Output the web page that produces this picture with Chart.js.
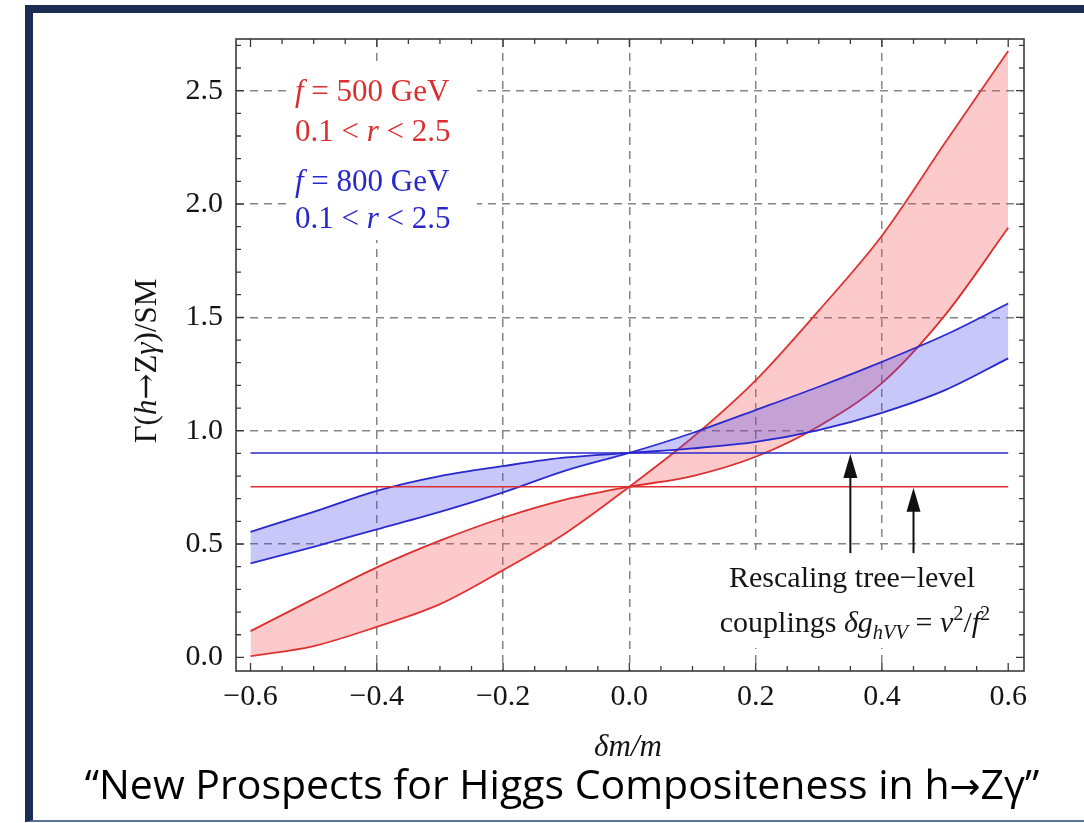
<!DOCTYPE html>
<html>
<head>
<meta charset="utf-8">
<script src="https://cdn.jsdelivr.net/npm/chart.js@4.4.1/dist/chart.umd.min.js"></script>
<style>
  html, body { margin: 0; padding: 0; background: #fff; }
  #page { position: relative; width: 1084px; height: 823px; overflow: hidden; background: #fff; }
  #frame { position: absolute; left: 25px; top: 5px; width: 1100px; height: 817px; box-sizing: border-box;
           border-left: 8px solid #1b2d52; border-top: 8px solid #1b2d52; border-bottom: 2px solid #5b7196; }
  #chart { position: absolute; left: 0; top: 0; }
  #caption { position: absolute; left: 0; width: 1124px; top: 755px; text-align: center;
             font-family: 'Open Sans', sans-serif; font-size: 41px; color: #000; white-space: nowrap; }
  #caption .arr { font-family: 'DejaVu Sans', sans-serif; font-size: 37px; }
</style>
</head>
<body>
<div id="page">
  <div id="frame"></div>
  <canvas id="chart" width="1084" height="823"></canvas>
  <div id="caption">“New Prospects for Higgs Compositeness in h<span class="arr">→</span>Zγ”</div>
</div>
<script>
// δm/m sample points
const dm = [-0.6, -0.5, -0.4, -0.3, -0.2, -0.1, 0, 0.1, 0.2, 0.3, 0.4, 0.5, 0.6];

// f = 500 GeV band edges
const red1 = [0.116, 0.258, 0.397, 0.515, 0.616, 0.697, 0.753, 0.80, 0.885, 1.02, 1.21, 1.51, 1.895];
const red2 = [0.006, 0.05, 0.135, 0.235, 0.385, 0.55, 0.753, 0.97, 1.222, 1.53, 1.86, 2.27, 2.675];

// f = 800 GeV band edges
const blue1 = [0.554, 0.642, 0.735, 0.80, 0.844, 0.882, 0.902, 0.922, 0.951, 1.003, 1.079, 1.179, 1.319];
const blue2 = [0.415, 0.488, 0.565, 0.642, 0.728, 0.825, 0.902, 0.99, 1.091, 1.194, 1.304, 1.422, 1.561];

// tree-level rescaling lines
const levelX = [-0.6, 0.6];
const redLevel = [0.753, 0.753];
const blueLevel = [0.902, 0.902];

// arrows pointing at the lines
const arrowX = [0.35, 0.45];
const arrowFrom = [0.46, 0.46];
const arrowTo = [0.902, 0.753];

const xTicks = [-0.6, -0.4, -0.2, 0, 0.2, 0.4, 0.6];
const xTickLabels = ['\u22120.6', '\u22120.4', '\u22120.2', '0.0', '0.2', '0.4', '0.6'];
const yTicks = [0, 0.5, 1, 1.5, 2, 2.5];
const yTickLabels = ['0.0', '0.5', '1.0', '1.5', '2.0', '2.5'];

const RED = '#dc2e2e';
const BLUE = '#2727cc';
const SERIF = "'Liberation Serif', 'DejaVu Serif', serif";

const pts = (xs, ys) => xs.map((x, i) => ({ x: x, y: ys[i] }));

// draw a line of text made of regular/italic/sub/sup runs ('d' = DejaVu glyph)
function drawRuns(ctx, parts, x, y, size, align) {
  const fontOf = p => {
    const st = p[1] || '';
    const sz = (st.includes('s') || st.includes('p')) ? size * 0.68 : size;
    const fam = st.includes('d') ? "'DejaVu Serif', serif" : SERIF;
    return (st.includes('i') ? 'italic ' : '') + sz + 'px ' + fam;
  };
  let total = 0;
  parts.forEach(p => { ctx.font = fontOf(p); total += ctx.measureText(p[0]).width; });
  let cx = align === 'center' ? x - total / 2 : x;
  ctx.textAlign = 'left';
  ctx.textBaseline = 'alphabetic';
  parts.forEach(p => {
    const st = p[1] || '';
    ctx.font = fontOf(p);
    let dy = 0;
    if (st.includes('s')) dy = size * 0.22;
    if (st.includes('p')) dy = -size * 0.4;
    ctx.fillText(p[0], cx, y + dy);
    cx += ctx.measureText(p[0]).width;
  });
}

const decor = {
  id: 'decor',
  beforeDatasetsDraw(chart) {
    const ctx = chart.ctx;
    ctx.save();
    ctx.fillStyle = '#fff';
    ctx.fillRect(287, 66, 190, 174);
    ctx.fillRect(702, 550, 306, 98);
    ctx.restore();
  },
  afterDatasetsDraw(chart) {
    const ctx = chart.ctx;
    const a = chart.chartArea;
    const xs = chart.scales.x, ys = chart.scales.y;
    ctx.save();

    // frame
    ctx.strokeStyle = '#3a3a3a';
    ctx.lineWidth = 1.6;
    ctx.strokeRect(a.left, a.top, a.right - a.left, a.bottom - a.top);

    // inward ticks on all four sides
    ctx.lineWidth = 1.3;
    ctx.beginPath();
    for (let k = -12; k <= 12; k++) {
      const px = xs.getPixelForValue(k * 0.05);
      const len = k % 4 === 0 ? 8 : 5;
      ctx.moveTo(px, a.bottom); ctx.lineTo(px, a.bottom - len);
      ctx.moveTo(px, a.top); ctx.lineTo(px, a.top + len);
    }
    for (let k = 0; k <= 27; k++) {
      const py = ys.getPixelForValue(k * 0.1);
      const len = k % 5 === 0 ? 8 : 5;
      ctx.moveTo(a.left, py); ctx.lineTo(a.left + len, py);
      ctx.moveTo(a.right, py); ctx.lineTo(a.right - len, py);
    }
    ctx.stroke();

    // arrows
    ctx.strokeStyle = '#111';
    ctx.fillStyle = '#111';
    arrowX.forEach((v, i) => {
      const px = xs.getPixelForValue(v);
      const y0 = ys.getPixelForValue(arrowFrom[i]);
      const y1 = ys.getPixelForValue(arrowTo[i]);
      ctx.lineWidth = 2;
      ctx.beginPath();
      ctx.moveTo(px, y0); ctx.lineTo(px, y1 + 20);
      ctx.stroke();
      ctx.beginPath();
      ctx.moveTo(px, y1 + 1);
      ctx.lineTo(px - 7, y1 + 25);
      ctx.lineTo(px + 7, y1 + 25);
      ctx.closePath();
      ctx.fill();
    });

    // legend text
    ctx.fillStyle = RED;
    drawRuns(ctx, [['f', 'i'], [' = 500 GeV']], 295, 101, 31, 'left');
    drawRuns(ctx, [['0.1 < '], ['r', 'i'], [' < 2.5']], 295, 141, 31, 'left');
    ctx.fillStyle = BLUE;
    drawRuns(ctx, [['f', 'i'], [' = 800 GeV']], 295, 191, 31, 'left');
    drawRuns(ctx, [['0.1 < '], ['r', 'i'], [' < 2.5']], 295, 228, 31, 'left');

    // annotation
    ctx.fillStyle = '#151515';
    drawRuns(ctx, [['Rescaling tree\u2212level']], 852, 587, 30, 'center');
    drawRuns(ctx, [['couplings '], ['\u03b4g', 'i'], ['hVV', 'is'], [' = '], ['v', 'i'], ['2', 'p'],
                   ['/'], ['f', 'i'], ['2', 'p']], 855, 632, 30, 'center');

    // axis titles
    drawRuns(ctx, [['\u03b4m/m', 'i']], 628, 756, 31, 'center');
    ctx.translate(156, 361);
    ctx.rotate(-Math.PI / 2);
    drawRuns(ctx, [['\u0393('], ['h', 'i'], ['\u2192', 'd'], ['Z'], ['\u03b3', 'i'], [')/SM']], 0, 0, 31, 'center');
    ctx.restore();
  }
};

new Chart(document.getElementById('chart').getContext('2d'), {
  type: 'line',
  data: {
    datasets: [
      { data: pts(dm, red1), borderColor: RED, borderWidth: 1.8, backgroundColor: 'rgba(245,80,80,0.3)', fill: '+1', order: 3 },
      { data: pts(dm, red2), borderColor: RED, borderWidth: 1.8, fill: false, order: 3 },
      { data: pts(dm, blue1), borderColor: BLUE, borderWidth: 1.8, backgroundColor: 'rgba(70,70,240,0.3)', fill: '+1', order: 2 },
      { data: pts(dm, blue2), borderColor: BLUE, borderWidth: 1.8, fill: false, order: 2 },
      { data: pts(levelX, redLevel), borderColor: RED, borderWidth: 1.5, fill: false, order: 1 },
      { data: pts(levelX, blueLevel), borderColor: BLUE, borderWidth: 1.5, fill: false, order: 1 }
    ]
  },
  options: {
    responsive: false,
    animation: false,
    devicePixelRatio: 1,
    layout: { padding: { left: 0, top: 39, right: 60, bottom: 0 } },
    elements: { point: { radius: 0 }, line: { cubicInterpolationMode: 'monotone' } },
    plugins: { legend: { display: false }, tooltip: { enabled: false } },
    scales: {
      x: {
        type: 'linear',
        min: -0.623,
        max: 0.625,
        afterBuildTicks: s => { s.ticks = xTicks.map(v => ({ value: v })); },
        afterFit: s => { s.height = 152; },
        ticks: {
          callback: (v, i) => xTickLabels[i],
          font: { family: SERIF, size: 30 },
          color: '#151515',
          padding: 8,
          maxRotation: 0,
          autoSkip: false
        },
        grid: {
          color: c => (c.tick && Math.abs(c.tick.value) < 0.5) ? '#858585' : 'rgba(0,0,0,0)',
          lineWidth: 1.5,
          drawTicks: false
        },
        border: { display: false, dash: [8, 6] }
      },
      y: {
        min: -0.06,
        max: 2.728,
        afterBuildTicks: s => { s.ticks = yTicks.map(v => ({ value: v })); },
        afterFit: s => { s.width = 236; },
        ticks: {
          callback: (v, i) => yTickLabels[i],
          font: { family: SERIF, size: 30 },
          color: '#151515',
          padding: 13,
          autoSkip: false
        },
        grid: {
          color: c => (c.tick && c.tick.value > 0.01) ? '#858585' : 'rgba(0,0,0,0)',
          lineWidth: 1.5,
          drawTicks: false
        },
        border: { display: false, dash: [8, 6] }
      }
    }
  },
  plugins: [decor]
});
</script>
</body>
</html>
